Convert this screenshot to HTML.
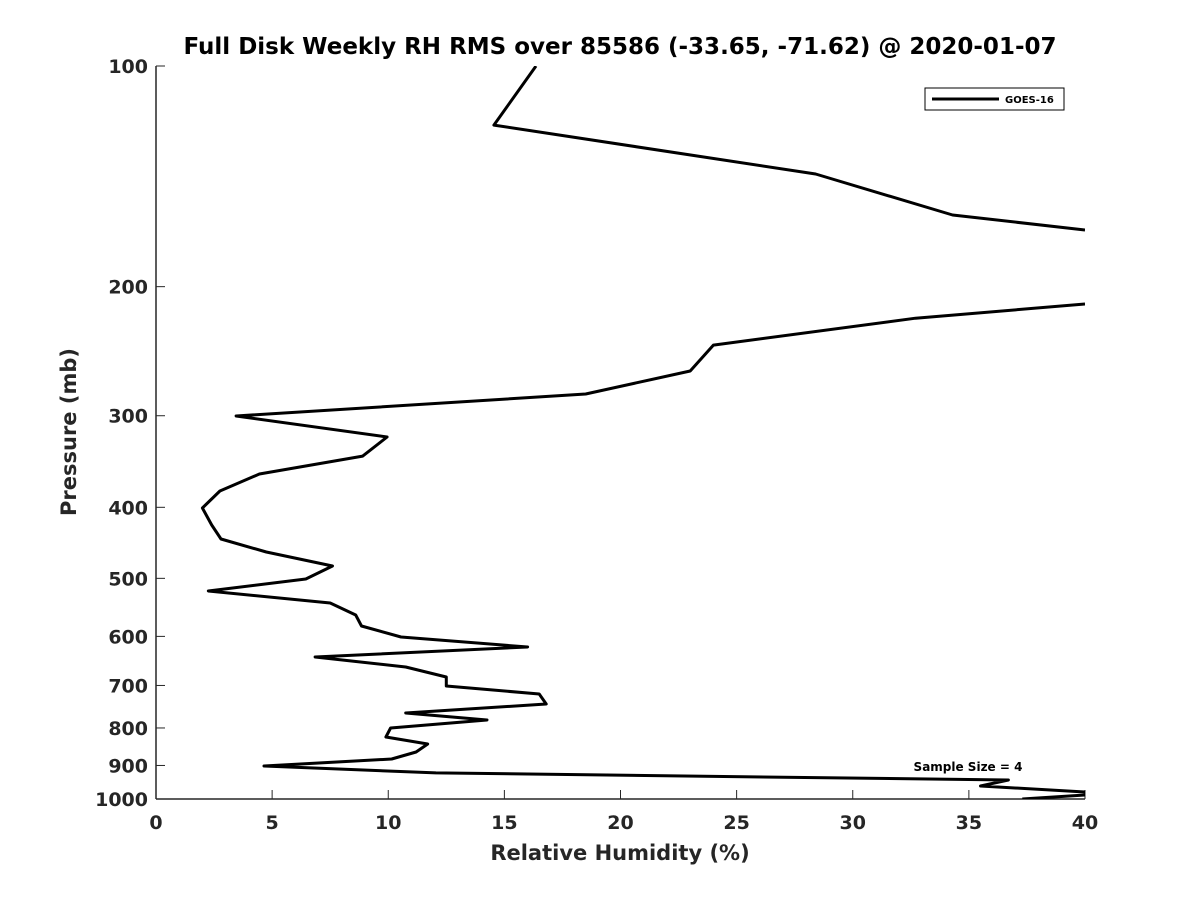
<!DOCTYPE html>
<html><head><meta charset="utf-8"><style>
body{margin:0;background:#fff}
svg text{font-family:"DejaVu Sans","Liberation Sans",sans-serif;font-weight:bold;fill:#262626}
</style></head><body>
<svg id="chart" width="1200" height="900" xmlns="http://www.w3.org/2000/svg">
<rect width="1200" height="900" fill="#fff"/>
<text x="620" y="54" text-anchor="middle" font-size="23" style="fill:#000">Full Disk Weekly RH RMS over 85586 (-33.65, -71.62) @ 2020-01-07</text>
<defs><clipPath id="clip"><rect x="156" y="66" width="929" height="733"/></clipPath></defs>
<g id="axes"></g>
<g id="series" clip-path="url(#clip)"></g>
<text x="620" y="860" text-anchor="middle" font-size="21">Relative Humidity (%)</text>
<text transform="translate(76,432) rotate(-90)" text-anchor="middle" font-size="21">Pressure (mb)</text>
<g>
<rect x="925" y="88" width="139" height="22" fill="#fff" stroke="#000" stroke-width="1"/>
<line x1="932" y1="99" x2="999" y2="99" stroke="#000" stroke-width="3"/>
<text x="1005" y="103" font-size="10" style="fill:#000">GOES-16</text>
</g>
<text x="968" y="771" text-anchor="middle" font-size="12" style="fill:#000">Sample Size = 4</text>
</svg>
<script>
const xTicks=[0,5,10,15,20,25,30,35,40];
const yTicks=[100,200,300,400,500,600,700,800,900,1000];
const rhValues=[16.36,14.55,28.4,34.3,40,40,32.7,24.0,23.0,18.5,3.45,9.95,8.9,4.45,2.75,2.0,2.4,2.8,4.75,7.6,6.45,2.25,7.5,8.6,8.85,10.55,16.0,6.85,10.75,12.5,12.5,16.5,16.8,10.75,14.25,10.1,9.9,11.7,11.2,10.15,4.65,12.05,36.7,35.5,40,40,37.3];
const pressures=[100,120.4,140.4,159.7,167.4,211.2,220.8,240.3,260.7,280.2,300.3,320.7,340.6,360.3,380.0,400.9,422.9,441.9,460.3,481.0,501.1,520.3,540.3,561.0,580.7,601.2,620.4,640.2,660.6,681.7,701.2,719.1,742.0,763.3,780.2,800.1,823.1,841.4,862.8,882.0,901.6,921.4,942.0,960.0,978.3,987.4,1000];
const breakAfter=4; // line leaves plot between these points
const X0=156,X1=1085,Y0=66,Y1=799;
function xs(v){return X0+(v-0)/(40-0)*(X1-X0);}
function ys(p){return Y0+Math.log10(p/100)*(Y1-Y0);}
const NS="http://www.w3.org/2000/svg";
const ax=document.getElementById('axes');
function mk(t,a,p){const e=document.createElementNS(NS,t);for(const k in a)e.setAttribute(k,a[k]);p.appendChild(e);return e;}
const xl=mk('line',{x1:X0,y1:Y1,x2:X1,y2:Y1,stroke:'#262626','stroke-width':1.5},ax);


const yl=mk('line',{x1:X0,y1:Y0,x2:X0,y2:Y1,stroke:'#262626','stroke-width':1.5},ax);


xTicks.forEach(v=>{const x=xs(v);
 mk('line',{x1:x,y1:Y1,x2:x,y2:Y1-9,stroke:'#262626','stroke-width':1},ax);
 const t=mk('text',{x:x,y:Y1+30,'text-anchor':'middle','font-size':19},ax);t.textContent=v;
 
 });
yTicks.forEach(v=>{const y=ys(v);
 mk('line',{x1:X0,y1:y,x2:X0+9,y2:y,stroke:'#262626','stroke-width':1},ax);
 const t=mk('text',{x:X0-8,y:y+7,'text-anchor':'end','font-size':19},ax);t.textContent=v;
 
 });
const sg=document.getElementById('series');
function seg(a,b){let d='';for(let i=a;i<=b;i++)d+=(i===a?'M':'L')+xs(rhValues[i]).toFixed(1)+','+ys(pressures[i]).toFixed(1);
 const p=mk('path',{d:d,fill:'none',stroke:'#000','stroke-width':3,'stroke-linejoin':'round'},sg);
 
 }
seg(0,breakAfter);seg(breakAfter+1,rhValues.length-1);
</script>
</body></html>
